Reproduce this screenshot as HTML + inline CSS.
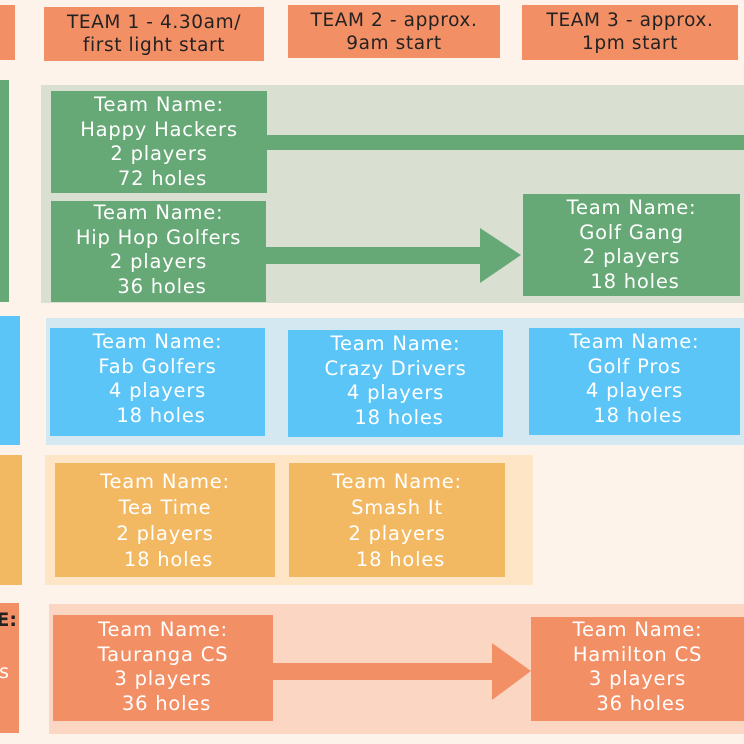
<!DOCTYPE html><html><head><style>
body{margin:0;width:744px;height:744px;background:#fdf3ea;position:relative;overflow:hidden;font-family:"DejaVu Sans","Liberation Sans",sans-serif}
div{position:absolute;box-sizing:border-box}
.b{color:#fff;text-align:center;font-size:19.5px;line-height:24.5px;letter-spacing:0.8px;padding-top:2px}
.h{background:#f38f65;color:#222;text-align:center;font-size:18.5px;line-height:23px;padding-top:4px;letter-spacing:0.6px}
.g{background:#67a877}.bl{background:#5bc5f7}.y{background:#f2b962}.o{background:#f38f65}
</style></head><body>
<div class="h" style="left:0;top:5px;width:15px;height:55px"></div>
<div class="h" style="left:44px;top:7px;width:220px;height:54px">TEAM 1 - 4.30am/<br>first light start</div>
<div class="h" style="left:288px;top:5px;width:212px;height:53px">TEAM 2 - approx.<br>9am start</div>
<div class="h" style="left:522px;top:5px;width:216px;height:55px">TEAM 3 - approx.<br>1pm start</div>

<div class="g" style="left:0;top:80px;width:9px;height:222px"></div>
<div style="left:41px;top:85px;width:703px;height:218px;background:#d9e0d2"></div>
<div class="g" style="left:260px;top:135px;width:484px;height:15px"></div>
<div class="g" style="left:260px;top:247px;width:222px;height:17px"></div>
<svg style="position:absolute;left:480px;top:228px" width="42" height="56"><polygon points="0,0 41,27 0,55" fill="#67a877"/></svg>
<div class="b g" style="left:51px;top:91px;width:216px;height:102px">Team Name:<br>Happy Hackers<br>2 players<br>&nbsp;72 holes</div>
<div class="b g" style="left:51px;top:201px;width:215px;height:101px;padding-top:0">Team Name:<br>Hip Hop Golfers<br>2 players<br>&nbsp;36 holes</div>
<div class="b g" style="left:523px;top:194px;width:217px;height:102px;padding-top:2px">Team Name:<br>Golf Gang<br>2 players<br>&nbsp;18 holes</div>

<div class="bl" style="left:0;top:316px;width:20px;height:129px"></div>
<div style="left:46px;top:318px;width:698px;height:127px;background:#d3e8f0"></div>
<div class="b bl" style="left:50px;top:328px;width:215px;height:108px">Team Name:<br>Fab Golfers<br>4 players<br>&nbsp;18 holes</div>
<div class="b bl" style="left:288px;top:330px;width:215px;height:107px">Team Name:<br>Crazy Drivers<br>4 players<br>&nbsp;18 holes</div>
<div class="b bl" style="left:529px;top:328px;width:211px;height:107px">Team Name:<br>Golf Pros<br>4 players<br>&nbsp;18 holes</div>

<div class="y" style="left:0;top:455px;width:22px;height:130px"></div>
<div style="left:45px;top:455px;width:488px;height:130px;background:#fde5c6"></div>
<div class="b y" style="left:55px;top:463px;width:220px;height:114px;padding-top:6px;line-height:26px">Team Name:<br>Tea Time<br>2 players<br>&nbsp;18 holes</div>
<div class="b y" style="left:289px;top:463px;width:216px;height:114px;padding-top:6px;line-height:26px">Team Name:<br>Smash It<br>2 players<br>&nbsp;18 holes</div>

<div class="o" style="left:0;top:603px;width:19px;height:130px;overflow:hidden"><span style="position:absolute;right:2px;top:6px;font-size:19px;font-weight:bold;color:#222;white-space:nowrap">E:</span><span style="position:absolute;right:10px;top:58px;font-size:19px;color:#fff">s</span></div>
<div style="left:49px;top:604px;width:695px;height:130px;background:#fbd6c2"></div>
<div class="o" style="left:270px;top:663px;width:224px;height:17px"></div>
<svg style="position:absolute;left:492px;top:643px" width="40" height="58"><polygon points="0,0 39,28 0,57" fill="#f38f65"/></svg>
<div class="b o" style="left:53px;top:615px;width:220px;height:106px;padding-top:3px">Team Name:<br>Tauranga CS<br>3 players<br>&nbsp;36 holes</div>
<div class="b o" style="left:531px;top:617px;width:213px;height:104px;padding-top:1px">Team Name:<br>Hamilton CS<br>3 players<br>&nbsp;36 holes</div>
</body></html>
